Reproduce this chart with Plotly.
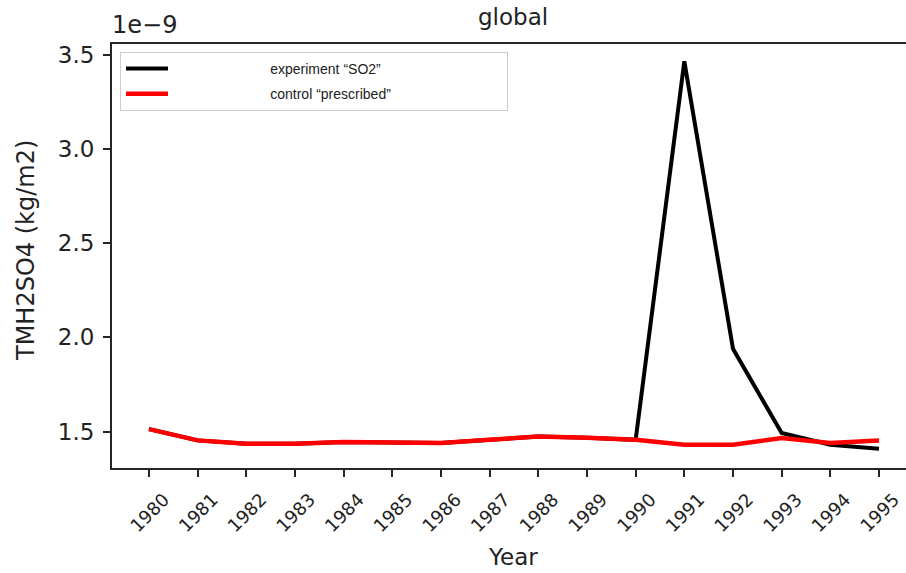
import plotly.graph_objects as go

years = list(range(1980, 1996))
# TMH2SO4 values in units of 1e-9 kg/m2
control_prescribed = [1.514, 1.454, 1.436, 1.436, 1.445, 1.445, 1.440, 1.457,
                      1.475, 1.468, 1.457, 1.431, 1.431, 1.466, 1.440, 1.454]
experiment_so2 = [1.514, 1.454, 1.436, 1.436, 1.445, 1.445, 1.440, 1.457,
                  1.475, 1.468, 1.457, 3.464, 1.940, 1.493, 1.431, 1.410]
ytick_vals = [1.5, 2.0, 2.5, 3.0, 3.5]
ytick_text = ["1.5", "2.0", "2.5", "3.0", "3.5"]

W, H = 906, 573
L, R, T, B = 112, 0, 44, 105
pw, ph = W - L - R, H - T - B

def px(x):
    return (x - L) / pw

def py(y):
    return (H - B - y) / ph

AX = "#262626"
TICKF = "DejaVu Sans"
LEGF = "Liberation Sans"
NB = "\u00a0"

fig = go.Figure()
fig.add_trace(go.Scatter(x=years, y=experiment_so2, mode="lines",
                         name=NB * 25 + "experiment \u201cSO2\u201d" + NB * 31,
                         line=dict(color="black", width=4), legendgroup="a"))
fig.add_trace(go.Scatter(x=years, y=control_prescribed, mode="lines",
                         name=NB * 25 + "control \u201cprescribed\u201d",
                         line=dict(color="#ff0000", width=4.5), legendgroup="b"))

fig.update_layout(
    width=W, height=H,
    margin=dict(l=L, r=R, t=T, b=B, autoexpand=False),
    paper_bgcolor="white", plot_bgcolor="white",
    showlegend=True,
    legend=dict(x=px(120), y=py(52), xanchor="left", yanchor="top",
                bgcolor="white", bordercolor="#cccccc", borderwidth=1,
                font=dict(family=LEGF, size=14, color="#222222"),
                itemwidth=42, tracegroupgap=4),
    xaxis=dict(range=[1979.24, 1995.555], tickvals=years,
               ticktext=[str(y) for y in years], tickangle=-45,
               ticks="outside", ticklen=7, tickwidth=1.5, tickcolor=AX,
               showline=True, linecolor=AX, linewidth=2, mirror=True,
               showgrid=False, zeroline=False,
               tickfont=dict(family=TICKF, size=18, color="#222222"),
               ticklabelshift=15, ticklabelstandoff=5, automargin=False),
    yaxis=dict(range=[1.3076, 3.556], tickvals=ytick_vals, ticktext=ytick_text,
               ticks="outside", ticklen=7, tickwidth=1.5, tickcolor=AX,
               showline=True, linecolor=AX, linewidth=2, mirror=False,
               showgrid=False, zeroline=False,
               tickfont=dict(family=TICKF, size=23, color="#222222"),
               ticklabelstandoff=4, automargin=False),
)

ann_font = dict(family=TICKF, size=23, color="#222222")
fig.add_annotation(text="global", xref="paper", yref="paper", x=px(513), y=py(17),
                   xanchor="center", yanchor="middle", showarrow=False, font=ann_font)
fig.add_annotation(text="1e\u22129", xref="paper", yref="paper", x=px(110), y=py(25),
                   xanchor="left", yanchor="middle", showarrow=False,
                   font=dict(family=TICKF, size=24, color="#222222"))
fig.add_annotation(text="TMH2SO4 (kg/m2)", xref="paper", yref="paper", x=px(26), y=py(251),
                   xanchor="center", yanchor="middle", textangle=-90, showarrow=False,
                   font=dict(family=TICKF, size=24, color="#222222"))
fig.add_annotation(text="Year", xref="paper", yref="paper", x=px(513), y=py(557),
                   xanchor="center", yanchor="middle", showarrow=False, font=ann_font)

fig.write_html("out.html", config={"displayModeBar": False},
               post_script="document.body.style.margin='0px';")
